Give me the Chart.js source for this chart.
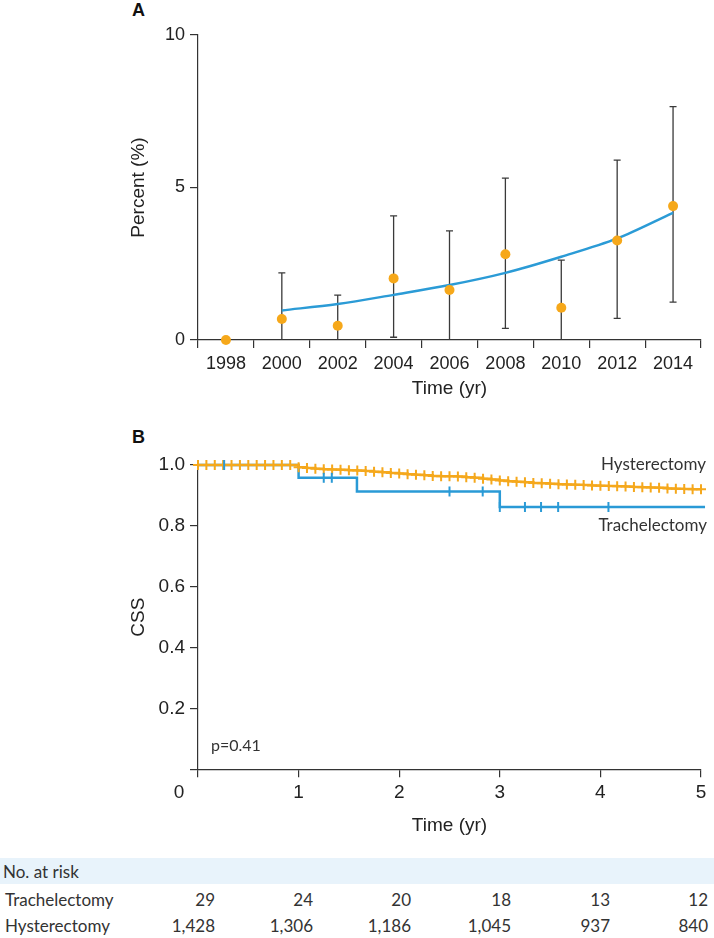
<!DOCTYPE html>
<html>
<head>
<meta charset="utf-8">
<script src="https://cdn.jsdelivr.net/npm/chart.js@4.4.1/dist/chart.umd.min.js"></script>
<style>
  body { margin: 0; background: #fff; }
  #page { position: relative; width: 714px; height: 938px; overflow: hidden; font-family: Lato, "Open Sans", sans-serif; color: #333; }
  canvas { position: absolute; left: 0; }
  .txt { position: absolute; font-size: 17px; line-height: 20px; white-space: nowrap; }
  .panel { position: absolute; font-family: "Liberation Sans", Arial, sans-serif; font-weight: bold; font-size: 18px; line-height: 20px; color: #111; }
  .band { position: absolute; left: 0; top: 858px; width: 714px; height: 26px; background: #e8f3fb; }
</style>
</head>
<body>
<div id="page">
  <div class="panel" style="left:132px; top:0px;">A</div>
  <canvas id="chartA" width="714" height="400" style="top:0px;"></canvas>

  <div class="panel" style="left:132px; top:427px;">B</div>
  <canvas id="chartB" width="714" height="410" style="top:430px;"></canvas>
  <div class="txt" style="right:8px; top:454px;">Hysterectomy</div>
  <div class="txt" style="right:7px; top:515px;">Trachelectomy</div>
  <div class="txt" style="left:211px; top:735px; font-size:16px;">p=0.41</div>

  <div class="band"></div>
  <div id="risk"></div>
</div>

<script>
// Panel A: yearly percent with 95% CI and fitted trend
const years = ['1998', '2000', '2002', '2004', '2006', '2008', '2010', '2012', '2014'];
const percent = [0, 0.69, 0.47, 2.02, 1.64, 2.81, 1.06, 3.26, 4.39];
const ciLow = [null, 0, 0, 0.09, 0, 0.38, 0, 0.71, 1.24];
const ciHigh = [null, 2.2, 1.47, 4.07, 3.58, 5.31, 2.62, 5.9, 7.65];
const fitted = [null, 0.97, 1.18, 1.48, 1.8, 2.2, 2.73, 3.33, 4.17];

// Panel B: cancer-specific survival
const trachTime = [0, 1.0, 1.58, 3.0, 5.04];
const trachSurv = [1.0, 0.958, 0.913, 0.862, 0.862];
const trachCensorTime = [0.26, 1.25, 1.33, 2.5, 2.83, 3.0, 3.25, 3.41, 3.58, 4.08];
const trachCensorSurv = [1.0, 0.958, 0.958, 0.913, 0.913, 0.862, 0.862, 0.862, 0.862, 0.862];
// hysterectomy survival read at each monthly censor mark (0 to 60 months)
const hystSurv = [
  1.0, 1.0, 1.0, 1.0, 1.0, 1.0, 1.0, 1.0, 1.0, 1.0, 1.0, 1.0,
  0.993, 0.990, 0.988, 0.986, 0.985, 0.984, 0.983, 0.982, 0.980, 0.978, 0.976, 0.974,
  0.972, 0.970, 0.968, 0.966, 0.964, 0.963, 0.963, 0.962, 0.960, 0.958, 0.955, 0.952,
  0.949, 0.947, 0.945, 0.943, 0.941, 0.940, 0.938, 0.937, 0.936, 0.935, 0.934, 0.933,
  0.932, 0.931, 0.930, 0.929, 0.928, 0.927, 0.926, 0.925, 0.923, 0.922, 0.921, 0.920,
  0.920
];

// Number at risk table
const riskGroups = ['Trachelectomy', 'Hysterectomy'];
const riskTrach = ['29', '24', '20', '18', '13', '12'];
const riskHyst = ['1,428', '1,306', '1,186', '1,045', '937', '840'];

const axisColor = '#333';
const tickFontA = { family: 'Liberation Sans', size: 18 };
const tickFontB = { family: 'Liberation Sans', size: 19 };
const titleFont = { family: 'Liberation Sans', size: 19 };

const errorBars = {
  id: 'errorBars',
  beforeDatasetsDraw(chart) {
    const { ctx, scales: { x, y } } = chart;
    ctx.save();
    ctx.strokeStyle = '#3a3a3a';
    ctx.lineWidth = 1.3;
    ciLow.forEach((lo, i) => {
      const hi = ciHigh[i];
      if (lo === null) return;
      const px = x.getPixelForValue(i);
      const yLo = y.getPixelForValue(lo);
      const yHi = y.getPixelForValue(hi);
      ctx.beginPath();
      ctx.moveTo(px, yLo);
      ctx.lineTo(px, yHi);
      ctx.moveTo(px - 3.5, yHi);
      ctx.lineTo(px + 3.5, yHi);
      if (lo > 0) {
        ctx.moveTo(px - 3.5, yLo);
        ctx.lineTo(px + 3.5, yLo);
      }
      ctx.stroke();
    });
    ctx.restore();
  }
};

new Chart(document.getElementById('chartA'), {
  type: 'line',
  data: {
    labels: years,
    datasets: [
      {
        label: 'Observed',
        data: percent,
        showLine: false,
        pointRadius: 5,
        pointBackgroundColor: '#f6a81a',
        pointBorderWidth: 0,
        clip: false
      },
      {
        label: 'Fitted',
        data: fitted,
        borderColor: '#2b9bd6',
        borderWidth: 2.5,
        pointRadius: 0,
        tension: 0.4,
        cubicInterpolationMode: 'monotone',
        fill: false
      }
    ]
  },
  options: {
    responsive: false,
    animation: false,
    events: [],
    layout: { padding: { top: 35, right: 13, left: 0, bottom: 0 } },
    plugins: { legend: { display: false }, tooltip: { enabled: false } },
    scales: {
      x: {
        offset: true,
        grid: { offset: true, drawOnChartArea: false, tickLength: 8, color: axisColor, lineWidth: 1.2 },
        border: { color: axisColor, width: 1.2 },
        ticks: { font: tickFontA, color: '#222', padding: 5, maxRotation: 0 },
        title: { display: true, text: 'Time (yr)', font: titleFont, color: '#222', padding: { top: 0, bottom: 0 } },
        afterFit(scale) { scale.height = 60; }
      },
      y: {
        min: 0,
        max: 10,
        grid: { drawOnChartArea: false, tickLength: 8, color: axisColor, lineWidth: 1.2 },
        border: { color: axisColor, width: 1.2 },
        ticks: { stepSize: 5, font: tickFontA, color: '#222', padding: 5 },
        title: { display: true, text: 'Percent (%)', font: titleFont, color: '#222', padding: { top: 127, bottom: 0 } },
        afterFit(scale) { scale.width = 198; }
      }
    }
  },
  plugins: [errorBars]
});

const zeroLabel = {
  id: 'zeroLabel',
  afterDraw(chart) {
    const { ctx, scales: { x } } = chart;
    ctx.save();
    ctx.font = '19px "Liberation Sans"';
    ctx.fillStyle = '#222';
    ctx.textAlign = 'center';
    ctx.textBaseline = 'middle';
    ctx.fillText('0', x.getPixelForValue(0) - 19, x.top + 8 + 4 + 11.4);
    ctx.restore();
  }
};

new Chart(document.getElementById('chartB'), {
  type: 'line',
  data: {
    datasets: [
      {
        label: 'Trachelectomy censored',
        data: trachCensorTime.map((t, i) => ({ x: t, y: trachCensorSurv[i] })),
        showLine: false,
        pointStyle: 'line',
        rotation: 90,
        pointRadius: 5,
        pointBorderColor: '#2a9ad6',
        pointBorderWidth: 2,
        clip: false
      },
      {
        label: 'Hysterectomy',
        data: hystSurv.map((s, i) => ({ x: i / 12, y: s })),
        stepped: 'before',
        borderColor: '#f5a81c',
        borderWidth: 2.5,
        pointStyle: 'cross',
        pointRadius: 5,
        pointBorderColor: '#f5a81c',
        pointBorderWidth: 2,
        clip: false
      },
      {
        label: 'Trachelectomy',
        data: trachTime.map((t, i) => ({ x: t, y: trachSurv[i] })),
        stepped: 'before',
        borderColor: '#2a9ad6',
        borderWidth: 2.5,
        pointRadius: 0,
        clip: false
      }
    ]
  },
  options: {
    responsive: false,
    animation: false,
    events: [],
    layout: { padding: { top: 35, right: 13, left: 0, bottom: 0 } },
    plugins: { legend: { display: false }, tooltip: { enabled: false } },
    scales: {
      x: {
        type: 'linear',
        min: 0,
        max: 5,
        grid: { drawOnChartArea: false, tickLength: 8, color: axisColor, lineWidth: 1.2 },
        border: { color: axisColor, width: 1.2 },
        ticks: { stepSize: 1, font: tickFontB, color: '#222', padding: 4, callback: v => (v === 0 ? '' : v) },
        title: { display: true, text: 'Time (yr)', font: titleFont, color: '#222', padding: { top: 0, bottom: 3 } },
        afterFit(scale) { scale.height = 70.7; }
      },
      y: {
        min: 0,
        max: 1,
        grid: { drawOnChartArea: false, tickLength: 8, color: axisColor, lineWidth: 1.2 },
        border: { color: axisColor, width: 1.2 },
        ticks: { stepSize: 0.2, font: tickFontB, color: '#222', padding: 5, callback: v => (v === 0 ? '' : v.toFixed(1)) },
        title: { display: true, text: 'CSS', font: titleFont, color: '#222', padding: { top: 127, bottom: 0 } },
        afterFit(scale) { scale.width = 198; }
      }
    }
  },
  plugins: [zeroLabel]
});

// risk table
const risk = document.getElementById('risk');
const colRight = [215, 313, 411, 511, 610, 708];
function addText(text, style) {
  const d = document.createElement('div');
  d.className = 'txt';
  d.textContent = text;
  Object.assign(d.style, style);
  risk.appendChild(d);
}
addText('No. at risk', { left: '3px', top: '862px' });
[riskTrach, riskHyst].forEach((row, r) => {
  const top = (r === 0 ? 890 : 916) + 'px';
  addText(riskGroups[r], { left: '5px', top });
  row.forEach((v, c) => addText(v, { right: (714 - colRight[c]) + 'px', top }));
});
</script>
</body>
</html>
